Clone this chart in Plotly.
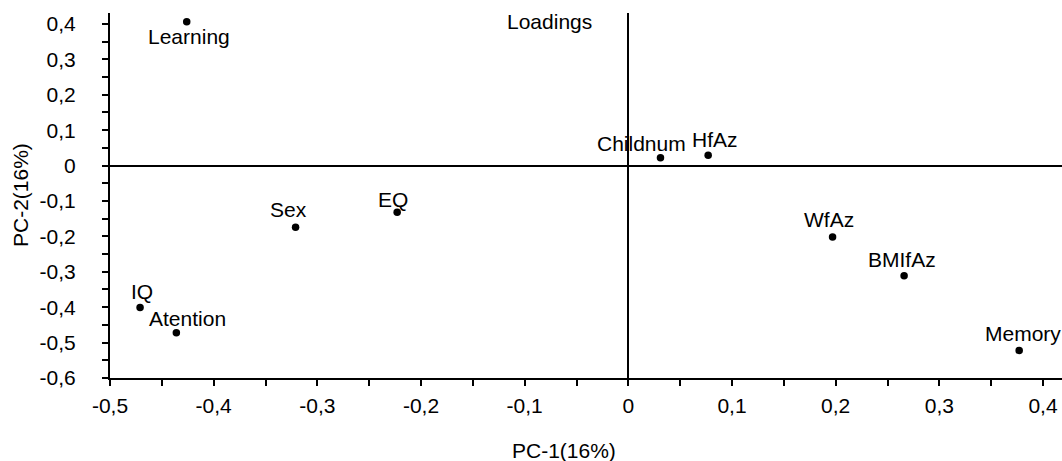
import plotly.graph_objects as go

# ---- data ----
variables = ["Learning", "IQ", "Atention", "Sex", "EQ", "Childnum", "HfAz", "WfAz", "BMIfAz", "Memory"]
pc1 = [-0.426, -0.471, -0.436, -0.321, -0.223, 0.031, 0.077, 0.197, 0.266, 0.377]
pc2 = [0.406, -0.401, -0.472, -0.174, -0.132, 0.022, 0.029, -0.202, -0.311, -0.522]

x_tick_vals = [-0.5, -0.45, -0.4, -0.35, -0.3, -0.25, -0.2, -0.15, -0.1, -0.05, 0, 0.05, 0.1, 0.15, 0.2, 0.25, 0.3, 0.35, 0.4]
x_tick_text = ["-0,5", "", "-0,4", "", "-0,3", "", "-0,2", "", "-0,1", "", "0", "", "0,1", "", "0,2", "", "0,3", "", "0,4"]
y_tick_vals = [-0.6, -0.55, -0.5, -0.45, -0.4, -0.35, -0.3, -0.25, -0.2, -0.15, -0.1, -0.05, 0, 0.05, 0.1, 0.15, 0.2, 0.25, 0.3, 0.35, 0.4]
y_tick_text = ["-0,6", "", "-0,5", "", "-0,4", "", "-0,3", "", "-0,2", "", "-0,1", "", "0", "", "0,1", "", "0,2", "", "0,3", "", "0,4"]

title_text = "Loadings"
x_title = "PC-1(16%)"
y_title = "PC-2(16%)"

# label offsets in pixels (style only)
label_shift = {
    "Learning": (2.5, -15), "IQ": (2, 16), "Atention": (11, 14), "Sex": (-7.5, 18),
    "EQ": (-4, 13), "Childnum": (-18.7, 14.5), "HfAz": (6.5, 16), "WfAz": (-3.5, 18),
    "BMIfAz": (-2.5, 16), "Memory": (4, 17),
}

FONT = "Liberation Sans, Arial, sans-serif"
FS = 21

fig = go.Figure()
fig.add_trace(go.Scatter(
    x=pc1, y=pc2, mode="markers",
    marker=dict(color="black", size=7.5),
    hoverinfo="text", text=variables, showlegend=False, cliponaxis=False,
))

annotations = []
for name, xv, yv in zip(variables, pc1, pc2):
    dx, dy = label_shift[name]
    annotations.append(dict(
        x=xv, y=yv, xref="x", yref="y", text=name, showarrow=False,
        xanchor="center", yanchor="middle", xshift=dx, yshift=dy,
        font=dict(family=FONT, size=FS, color="black"),
    ))
annotations.append(dict(x=0.462, y=0.977, xref="paper", yref="paper", text=title_text,
                        showarrow=False, xanchor="center", yanchor="middle",
                        font=dict(family=FONT, size=FS, color="black")))
annotations.append(dict(x=0.477, y=-0.1986, xref="paper", yref="paper", text=x_title,
                        showarrow=False, xanchor="center", yanchor="middle",
                        font=dict(family=FONT, size=FS, color="black")))
annotations.append(dict(x=-0.094, y=0.5, xref="paper", yref="paper", text=y_title,
                        showarrow=False, xanchor="center", yanchor="middle", textangle=-90,
                        font=dict(family=FONT, size=FS, color="black")))

axis_common = dict(
    showgrid=False, zeroline=True, zerolinecolor="black", zerolinewidth=2,
    showline=True, linecolor="black", linewidth=2, mirror=False,
    ticks="outside", ticklen=6, tickwidth=2, tickcolor="black",
    tickmode="array",
    tickfont=dict(family=FONT, size=FS, color="black"),
)

fig.update_layout(
    width=1062, height=461,
    margin=dict(l=110, r=0, t=13, b=83, pad=0),
    paper_bgcolor="white", plot_bgcolor="white",
    font=dict(family=FONT, size=FS, color="black"),
    annotations=annotations,
    xaxis=dict(**axis_common, range=[-0.5, 0.4183], tickvals=x_tick_vals, ticktext=x_tick_text,
               ticklabelstandoff=2),
    yaxis=dict(**axis_common, range=[-0.6, 0.431], tickvals=y_tick_vals, ticktext=y_tick_text,
               ticklabelstandoff=22),
)

fig.write_html("out.html",
               config={"displayModeBar": False},
               post_script="document.body.style.margin='0';document.body.style.overflow='hidden';")
